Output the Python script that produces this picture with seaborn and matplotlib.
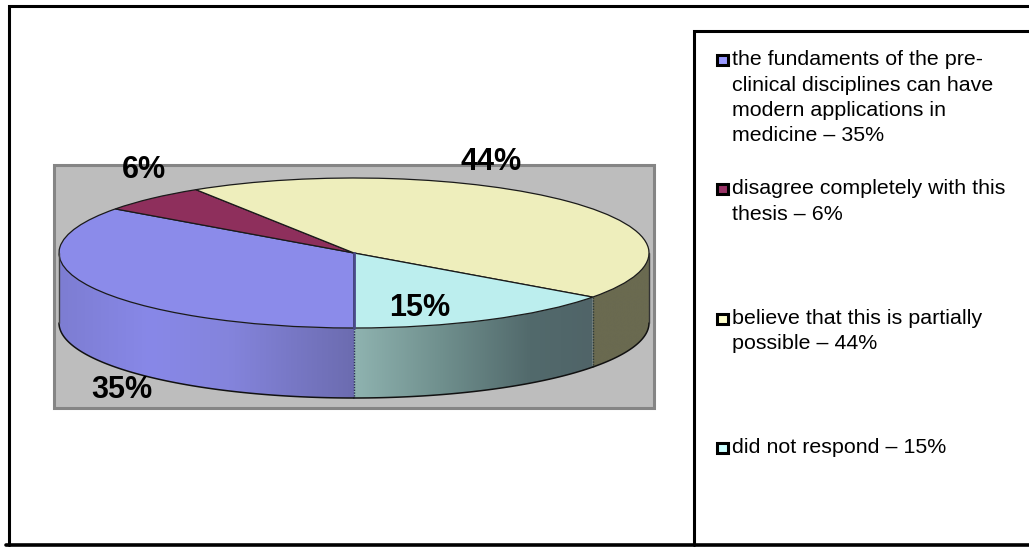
import numpy as np
import matplotlib
matplotlib.use("Agg")
import matplotlib.pyplot as plt
from matplotlib.colors import LinearSegmentedColormap
from matplotlib.patches import Polygon, Rectangle
import seaborn as sns

# Survey answers, in drawing order
shares = [35, 6, 44, 15]
legend_lines = [
    ["the fundaments of the pre-", "clinical disciplines can have",
     "modern applications in", "medicine \u2013 35%"],
    ["disagree completely with this", "thesis \u2013 6%"],
    ["believe that this is partially", "possible \u2013 44%"],
    ["did not respond \u2013 15%"],
]
top_colors = ["#8b8bea", "#8e2f5c", "#eeeebc", "#bceeee"]
swatch_colors = ["#9999ff", "#993366", "#ffffcc", "#ccffff"]
legend_baselines = [[65, 91, 116, 141], [194, 220], [324, 349], [453]]
label_centers = [(122, 389.5), (144, 170.5), (491, 162.5), (420, 307.5)]

W, H = 1029, 547
CX, CY, RX, RY, DEPTH = 354, 253, 295, 75, 70

sns.set_theme(style="white")
plt.rcParams["font.family"] = ["Liberation Sans", "DejaVu Sans"]

fig = plt.figure(figsize=(W / 100, H / 100), dpi=100, facecolor="white")

# Pixel-addressed layer for the frames and the grey plot area
canvas = fig.add_axes([0, 0, 1, 1], zorder=0)
canvas.set_xlim(0, W)
canvas.set_ylim(H, 0)
canvas.axis("off")
canvas.add_patch(Rectangle((54, 165), 600, 243, fc="#bdbdbd", ec="#858585", lw=2.2))
canvas.plot([9, 9, W], [545, 6, 6], color="black", lw=2.2, solid_joinstyle="miter")
canvas.plot([6, W], [545, 545], color="black", lw=2.6)
canvas.plot([694, 694, W], [545, 31, 31], color="black", lw=2.2, solid_joinstyle="miter")

# Pie layer: one data unit is one radius, so the wedges become an ellipse
ax = fig.add_axes([0, 0, 1, 1], zorder=1)
ax.patch.set_alpha(0)

edges = 270 - 3.6 * np.concatenate([[0], np.cumsum(shares)])
depth = DEPTH / RY


def rim(a0, a1, n=120):
    t = np.radians(np.linspace(a0, a1, n))
    return np.cos(t), np.sin(t)


def wall(a0, a1, stops, xstops):
    # Side wall between two angles, filled with a horizontal gradient
    x, y = rim(a0, a1)
    outline = np.column_stack([np.r_[x, x[::-1]], np.r_[y, y[::-1] - depth]])
    patch = Polygon(outline, closed=True, transform=ax.transData, fc="none", ec="none")
    ax.add_patch(patch)
    positions = (np.array(xstops) - xstops[0]) / (xstops[-1] - xstops[0])
    cmap = LinearSegmentedColormap.from_list("wall", list(zip(positions, stops)))
    x0, x1 = (xstops[0] - CX) / RX, (xstops[-1] - CX) / RX
    img = ax.imshow(np.linspace(0, 1, 400)[None, :], cmap=cmap, aspect="auto",
                    extent=[x0, x1, -2.2, 1.2], zorder=1)
    img.set_clip_path(patch)
    ax.plot(x, y - depth, color="#111111", lw=1.1, zorder=2)


# Only the front of the disc shows a wall: blue, then cyan, then yellow
wall(180, edges[0], ["#7d7dd2", "#8888e8", "#8484dc", "#6c6cb0"], [59, 150, 230, 354])
wall(edges[4], edges[3], ["#8fb3b0", "#70908e", "#526a6c", "#506468"], [354, 440, 530, 593])
wall(edges[3], 0, ["#6a6a50", "#6a6a50"], [593, 649])

ax.pie(shares, startangle=270, counterclock=False, radius=1, colors=top_colors,
       wedgeprops=dict(edgecolor="#1a1a1a", linewidth=0.9, zorder=3))

# Vertical seams on the wall
for angle, col in [(edges[0], "#2a2a55"), (edges[3], "#2c3a3a")]:
    xs = np.cos(np.radians(angle))
    ys = np.sin(np.radians(angle))
    ax.plot([xs, xs], [ys, ys - depth], color=col, lw=1.0, ls=(0, (1, 1)), zorder=4)
ax.plot([0, 0], [0, -1], color="#4a4a8a", lw=2.0, zorder=4)
ax.plot([-1, -1], [0, -depth], color="#444444", lw=1.0, zorder=4)
ax.plot([1, 1], [0, -depth], color="#333333", lw=1.0, zorder=4)

ax.set_aspect("auto")
ax.set_xlim(-CX / RX, (W - CX) / RX)
ax.set_ylim((CY - H) / RY, CY / RY)
ax.axis("off")

# Percentage labels
for value, (lx, ly) in zip(shares, label_centers):
    ax.text(lx, ly, f"{value}%", transform=canvas.transData, ha="center", va="center",
            fontsize=22, fontweight="bold", color="black", zorder=6, clip_on=False)

# Legend entries, set line by line
for lines, bases, swatch in zip(legend_lines, legend_baselines, swatch_colors):
    canvas.add_patch(Rectangle((716.5, bases[0] - 10.5), 11, 10.5, fc=swatch, ec="black", lw=2.2))
    for line, base in zip(lines, bases):
        canvas.text(731.5, base, line, fontsize=15.4, color="black", va="baseline", ha="left")

fig.savefig("out.png", dpi=100)
